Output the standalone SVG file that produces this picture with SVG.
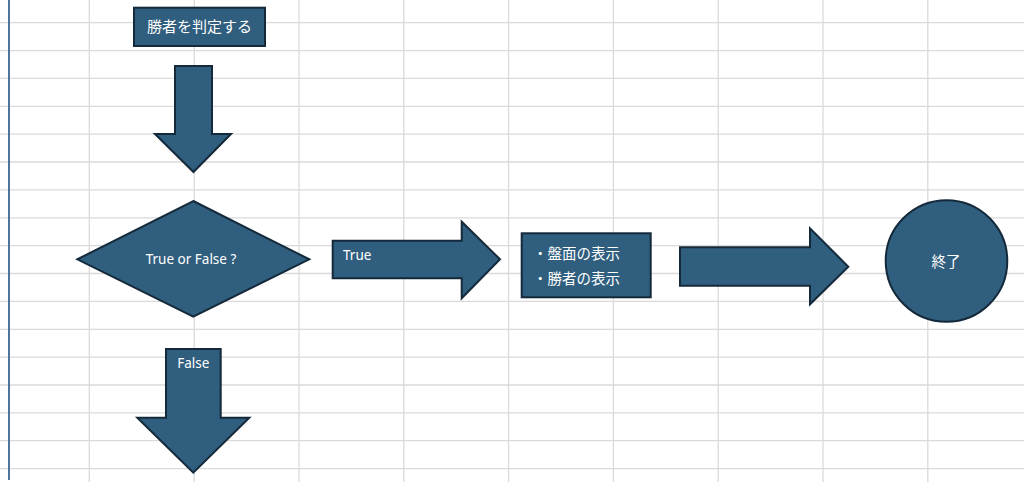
<svg xmlns="http://www.w3.org/2000/svg" width="1024" height="482" viewBox="0 0 1024 482">
  <style>
    .grid line { stroke: #dadada; stroke-width: 1.3; }
    .shape { fill: #305e7e; stroke: #14293a; stroke-width: 2; stroke-linejoin: miter; }
    .lbl { fill: #ffffff; font-family: "Noto Sans", "Noto Sans CJK JP", sans-serif; font-size: 13.5px; }
    .jp { fill: #ffffff; font-family: "Noto Sans CJK JP", "Noto Sans", sans-serif; font-size: 14.5px; }
  </style>
  <rect x="0" y="0" width="1024" height="482" fill="#ffffff"/>
  <g id="grid" class="grid">
    <line x1="0" y1="22.7" x2="1024" y2="22.7"/>
    <line x1="0" y1="50.6" x2="1024" y2="50.6"/>
    <line x1="0" y1="78.4" x2="1024" y2="78.4"/>
    <line x1="0" y1="106.3" x2="1024" y2="106.3"/>
    <line x1="0" y1="134.2" x2="1024" y2="134.2"/>
    <line x1="0" y1="162" x2="1024" y2="162"/>
    <line x1="0" y1="189.9" x2="1024" y2="189.9"/>
    <line x1="0" y1="217.8" x2="1024" y2="217.8"/>
    <line x1="0" y1="245.7" x2="1024" y2="245.7"/>
    <line x1="0" y1="273.5" x2="1024" y2="273.5"/>
    <line x1="0" y1="301.4" x2="1024" y2="301.4"/>
    <line x1="0" y1="329.3" x2="1024" y2="329.3"/>
    <line x1="0" y1="357.1" x2="1024" y2="357.1"/>
    <line x1="0" y1="385" x2="1024" y2="385"/>
    <line x1="0" y1="412.9" x2="1024" y2="412.9"/>
    <line x1="0" y1="440.7" x2="1024" y2="440.7"/>
    <line x1="0" y1="468.6" x2="1024" y2="468.6"/>
    <line x1="89.3" y1="0" x2="89.3" y2="482"/>
    <line x1="194.2" y1="0" x2="194.2" y2="482"/>
    <line x1="299" y1="0" x2="299" y2="482"/>
    <line x1="403.8" y1="0" x2="403.8" y2="482"/>
    <line x1="508.6" y1="0" x2="508.6" y2="482"/>
    <line x1="613.4" y1="0" x2="613.4" y2="482"/>
    <line x1="718.2" y1="0" x2="718.2" y2="482"/>
    <line x1="823" y1="0" x2="823" y2="482"/>
    <line x1="927.8" y1="0" x2="927.8" y2="482"/>
  </g>
  <line x1="9" y1="0" x2="9" y2="480" stroke="#4e759b" stroke-width="2"/>

  <g id="connectors">
    <g id="arrow-judge-to-decision">
      <polygon class="shape" points="175,66 212,66 212,134 231,134 193.5,172 155,134 175,134"/>
    </g>
    <g id="arrow-true">
      <polygon class="shape" points="332.7,240.7 461.7,240.7 461.7,221.7 500,259.3 461.7,298.3 461.7,278.3 332.7,278.3"/>
      <text class="lbl" x="343" y="260">True</text>
    </g>
    <g id="arrow-display-to-end">
      <polygon class="shape" points="680,247.3 810,247.3 810,228.3 848.3,266.7 810,304.3 810,285.7 680,285.7"/>
    </g>
    <g id="arrow-false">
      <polygon class="shape" points="166,349 220.7,349 220.7,417.7 249.3,417.7 193.3,472.7 137.3,417.7 166,417.7"/>
      <text class="lbl" x="193.3" y="368" text-anchor="middle">False</text>
    </g>
  </g>

  <g id="node-judge">
    <rect class="shape" x="134" y="7.7" width="131" height="38.3"/>
    <text class="jp" x="199.5" y="31.5" text-anchor="middle" style="font-size:15px">勝者を判定する</text>
  </g>

  <g id="node-decision">
    <polygon class="shape" points="193.3,201 309.3,259.3 193.3,316.7 77.3,259.3"/>
    <text class="lbl" x="191" y="264" text-anchor="middle">True or False ?</text>
  </g>

  <g id="node-display">
    <rect class="shape" x="521.7" y="233.3" width="129" height="64"/>
    <text class="jp" x="533" y="258.5">・盤面の表示</text>
    <text class="jp" x="533" y="283.5">・勝者の表示</text>
  </g>

  <g id="node-end">
    <circle class="shape" cx="946.5" cy="261" r="60.8"/>
    <text class="jp" x="946" y="266.5" text-anchor="middle">終了</text>
  </g>
</svg>
